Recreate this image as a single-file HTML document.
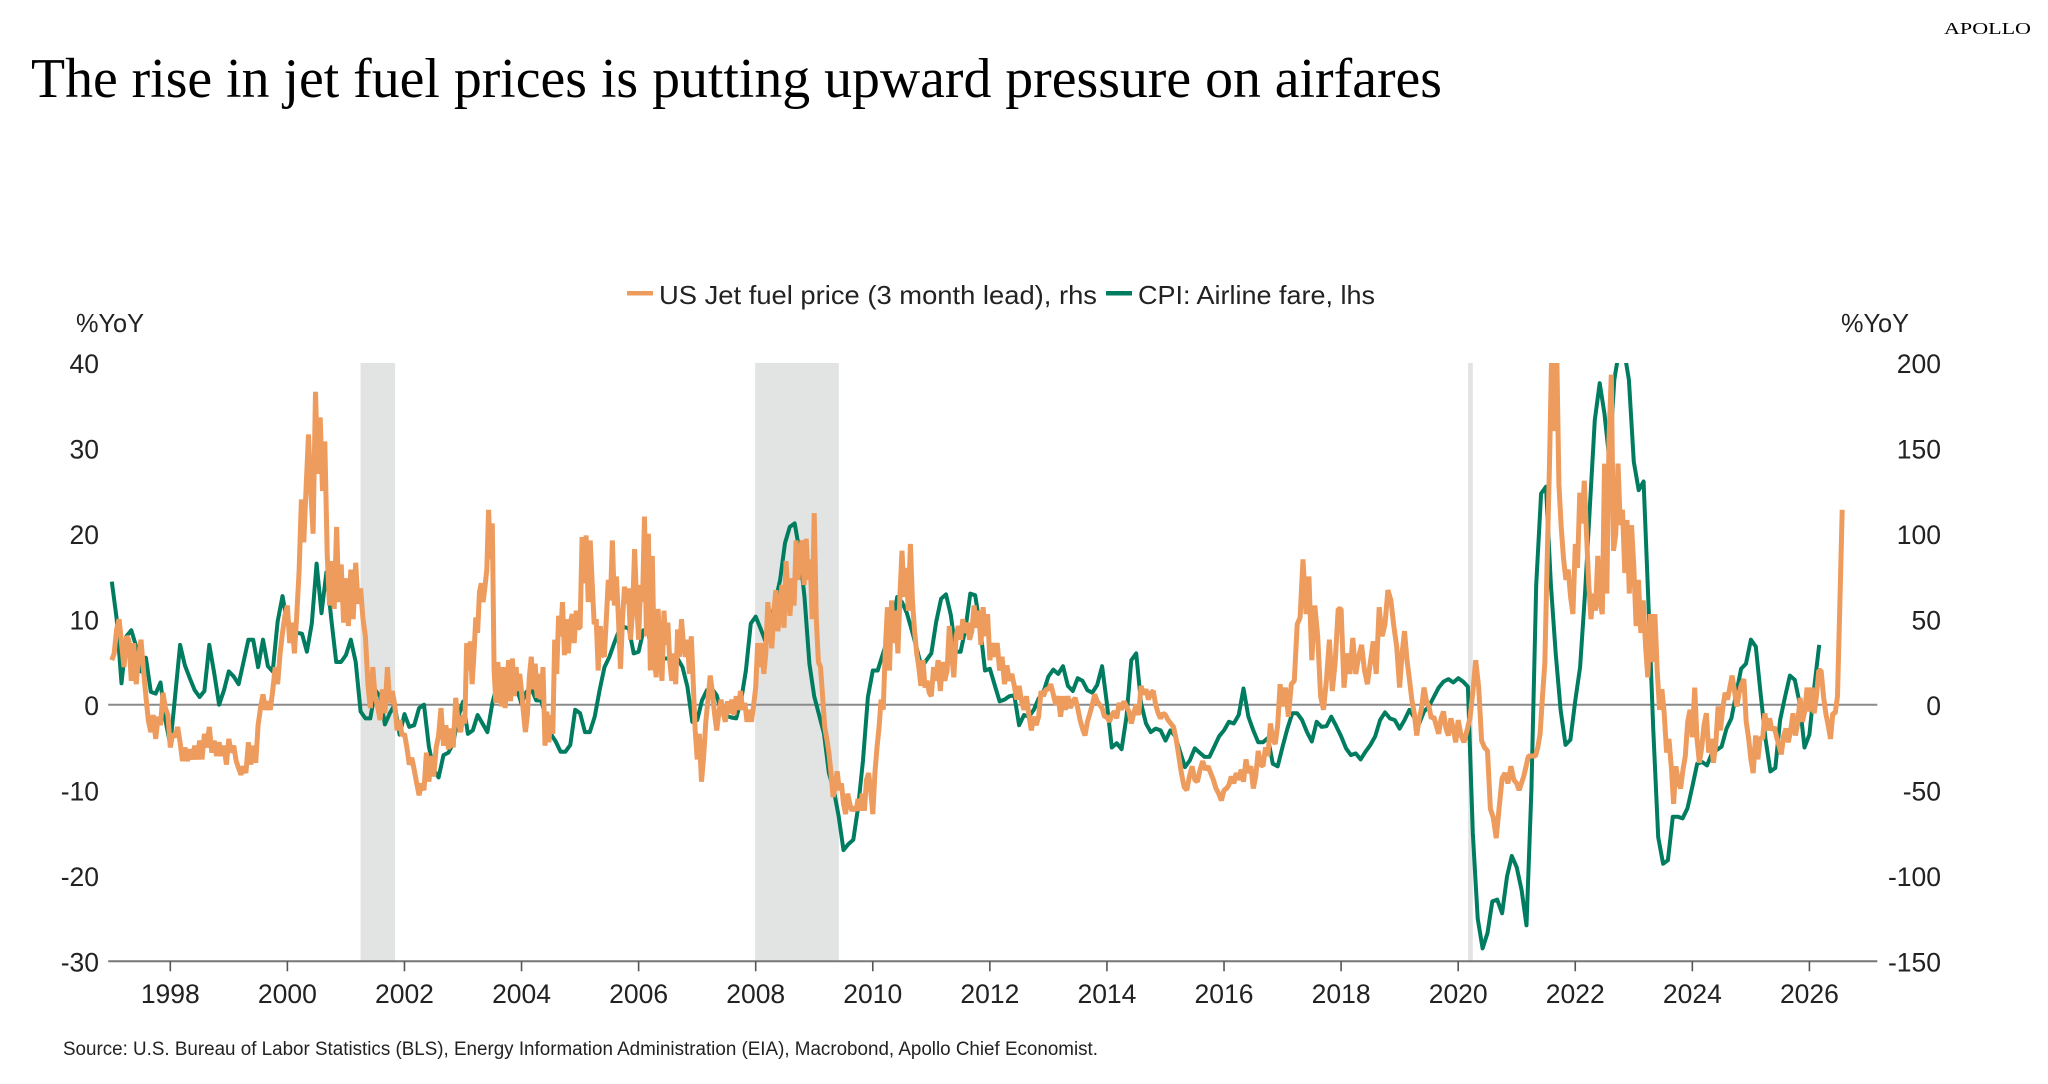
<!DOCTYPE html>
<html lang="en">
<head>
<meta charset="utf-8">
<title>The rise in jet fuel prices is putting upward pressure on airfares</title>
<style>
html,body{margin:0;padding:0;background:#fff;width:2048px;height:1084px;overflow:hidden}
svg{display:block}
text{font-family:"Liberation Sans",sans-serif;fill:#222}
.serif{font-family:"Liberation Serif",serif;fill:#000}
</style>
</head>
<body>
<svg id="chart" xmlns="http://www.w3.org/2000/svg" width="2048" height="1084" viewBox="0 0 2048 1084">
  <defs><clipPath id="plot-clip"><rect x="108" y="363" width="1770" height="598.5"/></clipPath></defs>
  <text class="serif" x="1944" y="34" font-size="17" textLength="87" lengthAdjust="spacingAndGlyphs">APOLLO</text>
  <text class="serif" x="31" y="97" font-size="56" textLength="1411" lengthAdjust="spacingAndGlyphs">The rise in jet fuel prices is putting upward pressure on airfares</text>
  <rect x="627" y="291" width="26" height="4.5" fill="#EE9B5E"/>
  <text x="659" y="304" font-size="26" textLength="438" lengthAdjust="spacingAndGlyphs">US Jet fuel price (3 month lead), rhs</text>
  <rect x="1106" y="291" width="26" height="4.5" fill="#007C60"/>
  <text x="1138" y="304" font-size="26" textLength="237" lengthAdjust="spacingAndGlyphs">CPI: Airline fare, lhs</text>
  <text x="76" y="332" font-size="26" textLength="68" lengthAdjust="spacingAndGlyphs">%YoY</text>
  <text x="1841" y="332" font-size="26" textLength="68" lengthAdjust="spacingAndGlyphs">%YoY</text>
  <g id="bands"></g>
  <g id="axes"></g>
  <g id="series" clip-path="url(#plot-clip)"></g>
  <g id="labels"></g>
  <text x="63" y="1055" font-size="19" textLength="1035" lengthAdjust="spacingAndGlyphs" fill="#333">Source: U.S. Bureau of Labor Statistics (BLS), Energy Information Administration (EIA), Macrobond, Apollo Chief Economist.</text>
</svg>
<script>
const yearTicks = [1998,2000,2002,2004,2006,2008,2010,2012,2014,2016,2018,2020,2022,2024,2026];
const leftTicks = [40,30,20,10,0,-10,-20,-30];
const rightTicks = [200,150,100,50,0,-50,-100,-150];
const recessionStarts = [2001.25,2007.99,2020.17];
const recessionEnds = [2001.84,2009.42,2020.25];

const cpiFirstYear = 1997;
const cpi1997 = [14.4,10.1,2.5,8,8.7,6.8,3.9,5.5,1.5,1.3,2.6,-1.8];
const cpi1998 = [-4.7,1.1,7,4.6,3.1,1.7,0.9,1.6,7,3.7,0,1.7];
const cpi1999 = [3.9,3.3,2.4,5,7.6,7.6,4.4,7.6,4.5,3.9,9.7,12.7];
const cpi2000 = [9.5,8.4,8.4,8.3,6.2,9.5,16.5,10.7,15.5,10,5,5];
const cpi2001 = [5.8,7.6,5,-0.8,-1.6,-1.6,1.7,1,-2.3,-1,0,-3.5];
const cpi2002 = [-1.1,-2.6,-2.4,-0.4,0,-4.9,-7.6,-8.5,-5.9,-5.6,-4.5,-1.5];
const cpi2003 = [0.35,-3.4,-3,-1.2,-2.2,-3.2,0.15,2.3,3,2.5,3.9,1.9];
const cpi2004 = [0.1,1.5,1.9,0.5,0.5,-1.4,-3.4,-4.3,-5.5,-5.5,-4.7,-0.6];
const cpi2005 = [-1,-3.2,-3.2,-1.4,1.7,4.4,5.6,7.2,8.7,9.1,8.9,6];
const cpi2006 = [6.2,8.7,8.3,5.6,5.2,5.4,5.4,5.4,5.4,4.4,2.1,-2];
const cpi2007 = [-1.8,0.5,1.7,1.9,1.1,-1,-1.3,-1.5,-1.6,0.5,4,9.5];
const cpi2008 = [10.3,8.9,7.4,9.7,12,14.6,18.9,20.8,21.2,17.9,12.6,4.8];
const cpi2009 = [1,-1.2,-3.4,-8,-10,-13,-17,-16.3,-15.8,-12,-6.5,0.9];
const cpi2010 = [4,4,5.8,7.6,9.5,12.6,12,10.7,8.7,6.6,4.4,5.2];
const cpi2011 = [6,9.7,12.4,12.9,10.5,6.2,6.2,8.9,13,12.8,9.1,4];
const cpi2012 = [4.2,2.3,0.4,0.6,1,1.1,-2.4,-1.2,-1.4,-0.6,0.7,1.5];
const cpi2013 = [3.3,4.1,3.6,4.5,2.2,1.6,3.1,2.8,1.7,1.4,2.3,4.5];
const cpi2014 = [0.15,-5,-4.5,-5.2,-1.4,5.2,6,0.15,-2.2,-3.2,-2.8,-3];
const cpi2015 = [-4.2,-3,-3.7,-5.5,-7.3,-6.5,-5.1,-5.6,-6.1,-6.1,-4.9,-3.7];
const cpi2016 = [-3,-2,-2.2,-1.2,1.9,-1.4,-3,-4.4,-4.4,-3.9,-6.9,-7.2];
const cpi2017 = [-4.9,-2.8,-1,-1,-1.8,-3.2,-4.3,-2,-2.6,-2.5,-1.4,-2.5];
const cpi2018 = [-3.7,-5.1,-5.9,-5.7,-6.4,-5.5,-4.7,-3.7,-1.8,-0.9,-1.6,-1.8];
const cpi2019 = [-2.8,-1.8,-0.6,-1.5,-2.2,-0.8,-0.2,0.9,2,2.7,3,2.6];
const cpi2020 = [3.1,2.7,2.1,-15,-25,-28.5,-26.7,-23,-22.8,-24.4,-20.1,-17.7];
const cpi2021 = [-19,-21.7,-25.8,-10,14,24.7,25.5,14,6,-0.6,-4.7,-4.1];
const cpi2022 = [0.5,4.4,13,23.2,33.3,37.6,34,28.6,38,41.5,41.5,38];
const cpi2023 = [28.4,25.1,26.1,12,-3,-15.5,-18.6,-18.2,-13.1,-13.1,-13.3,-12.1];
const cpi2024 = [-9.6,-6.9,-6.7,-7.1,-5.7,-5.3,-4.9,-2.8,-1.6,1.3,4.2,4.8];
const cpi2025 = [7.6,6.8,1.3,-4,-7.8,-7.4,-1.8,0.9,3.4,2.9,0.15,-5];
const cpi2026 = [-3.5,2.1,7];
const cpiByYear = [cpi1997,cpi1998,cpi1999,cpi2000,cpi2001,cpi2002,cpi2003,cpi2004,cpi2005,cpi2006,cpi2007,cpi2008,cpi2009,cpi2010,cpi2011,cpi2012,cpi2013,cpi2014,cpi2015,cpi2016,cpi2017,cpi2018,cpi2019,cpi2020,cpi2021,cpi2022,cpi2023,cpi2024,cpi2025,cpi2026];

const fuelFirstYear = 1997;
const fuelLastYearSpan = 0.6;
const fuel1997 = [26,30,44,50,36,22,40,38,14,36,12,28,38,20,5,-9,-16,-6,-20,-7,-12,7,-2,-6];
const fuel1998 = [-25,-17,-19,-13,-22,-33,-25,-33,-26,-32,-24,-32,-21,-32,-17,-25,-13,-28,-21,-30,-22,-30,-24,-35];
const fuel1999 = [-20,-28,-24,-33,-37,-41,-36,-40,-22,-35,-24,-34,-12,-2,6,-3,2,-3,8,22,12,30,42,52];
const fuel2000 = [58,36,48,30,52,78,120,95,127,158,125,100,183,135,168,125,154,88,58,84,56,104,60,82,48];
const fuel2001 = [74,46,79,50,83,59,68,50,40,12,-2,22,4,-1,-9,9,-5,22,1,8,0,-15,-9,-18];
const fuel2002 = [-17,-25,-35,-31,-38,-46,-53,-46,-50,-28,-45,-30,-42,-25,-18,-2,-24,-12,-26,-14,-25,4,-10,-16];
const fuel2003 = [-6,-11,36,20,37,12,30,51,42,66,71,60,69,79,114,85,106,20,1,25,10,-1,22,-2,14,26,2,27,5,22,8,18];
const fuel2004 = [8,-5,-16,-6,16,28,9,24,4,18,3,22,-24,-4,-22,-6,-17,38,18,52,40,60,29,50,30,48,53,36,55,45];
const fuel2005 = [45,98,71,99,60,96,71,47,50,20,46,30,28,50,73,61,96,58,75,51,21,50,69,59,68,38,55,91,60];
const fuel2006 = [38,70,60,110,40,100,20,87,28,16,56,30,14,55,35,48,25,14,30,12,44,28,50,35,28,38,18,40,12,-15];
const fuel2007 = [-32,-17,-45,-30,-10,3,17,8,-5,-15,-5,3,-5,-10,2,-5,3,-6,5,-3,8,-3,1,-10,-3,-10,-1];
const fuel2008 = [10,36,22,36,18,30,60,45,33,55,67,43,55,70,45,84,65,52,74,58,96,73,90,96,70,97,73,85,50];
const fuel2009 = [112,50,25,22,5,-13,-20,-28,-40,-54,-48,-39,-50,-46,-58,-64,-52,-58,-62,-60,-62,-55,-62,-52,-62,-44,-40,-50];
const fuel2010 = [-64,-40,-25,-13,3,-3,32,57,20,61,36,55,30,65,90,63,80,55,94,60,43,30,22,11,26,10,14,7];
const fuel2011 = [5,22,14,26,8,25,14,20,46,30,16,40,46,38,50,42,48,38,43,58,45,55,35,57,40,53];
const fuel2012 = [26,36,28,36,20,28,12,23,14,18,11,3,11,2,-3,5,-6,-15,-7,-12,-7,8,5,9];
const fuel2013 = [9,12,6,0,5,-7,5,-3,5,-2,2,4,-2,-9,-14,-18,-10,-5,0,6,2,0,-2,-7];
const fuel2014 = [-7,-10,-6,-4,-8,1,-3,2,-1,-4,-11,-5,0,-6,11,6,9,3,7,8,0,-5,-8,-5];
const fuel2015 = [-6,-9,-11,-13,-20,-30,-40,-48,-50,-42,-36,-44,-45,-38,-33,-38,-36,-40,-44,-49,-52,-56];
const fuel2016 = [-50,-49,-47,-42,-46,-40,-44,-38,-45,-32,-40,-36,-49,-42,-27,-35,-36,-25,-30,-11,-20,-23,-12,12];
const fuel2017 = [-1,10,-7,12,14,47,51,85,53,75,26,58,40,5,-3,15,38,8,25,56];
const fuel2018 = [56,10,30,18,39,18,28,35,20,12,25,37,18,57,40,47,67,61,46,34];
const fuel2019 = [10,30,43,26,15,3,-5,-18,-8,-2,10,2,-1,-8,-7,-12,-17,-8,-4,-14,-18,-8,-14,-22];
const fuel2020 = [-9,-18,-22,-15,-8,7,26,10,-21,-25,-27,-61,-66,-78,-60,-43,-40,-46,-36,-44];
const fuel2021 = [-46,-50,-46,-42,-36,-30,-30,-30,-30,-25,-17,5,24,85,141,210,160,215,129,104,85,73,79,63,53];
const fuel2022 = [94,80,124,106,131,100,70,50,65,55,87,60,53,141,65,155,193,90,100,141,105,114,77,108,65,105];
const fuel2023 = [81,46,73,42,61,35,16,53,25,53,20,-3,9,-5,-28,-20,-36,-58,-36,-45,-49,-38,-30,-10,-3];
const fuel2024 = [-19,10,-20,-34,-25,-12,-5,-28,-20,-34,-23,-1,-15,-2,7,3,10,17,8,-1,7,12,15,-10,-19];
const fuel2025 = [-32,-40,-18,-32,-19,-20,-5,-15,-8,-15,-13,-19,-24,-29,-18,-14,-22,-15,-5,-18,-11,4,-10,-4,10];
const fuel2026 = [-4,10,-5,5,20,20,5,-5,-12,-20,-5,-5,5,60,114];
const fuelByYear = [fuel1997,fuel1998,fuel1999,fuel2000,fuel2001,fuel2002,fuel2003,fuel2004,fuel2005,fuel2006,fuel2007,fuel2008,fuel2009,fuel2010,fuel2011,fuel2012,fuel2013,fuel2014,fuel2015,fuel2016,fuel2017,fuel2018,fuel2019,fuel2020,fuel2021,fuel2022,fuel2023,fuel2024,fuel2025,fuel2026];

const NS = 'http://www.w3.org/2000/svg';
const plotLeft = 108.2, plotRight = 1877.3, plotTop = 363, zeroY = 704.7, plotBottom = 961.3;
function xScale(t){ return 170.3 + 58.54 * (t - 1998); }
function yLeft(v){ return zeroY - 8.55 * v; }
function yRight(v){ return zeroY - 1.71 * v; }
function make(tag, parent, attrs){
  const el = document.createElementNS(NS, tag);
  for (const k in attrs) el.setAttribute(k, attrs[k]);
  parent.appendChild(el);
  return el;
}

const bands = document.getElementById('bands');
recessionStarts.forEach(function(s, i){
  const band = make('rect', bands, {x: xScale(s), y: plotTop, width: xScale(recessionEnds[i]) - xScale(s), height: plotBottom - plotTop, fill: '#E2E4E3'});
  
  
});

const axes = document.getElementById('axes');
const zeroLine = make('line', axes, {x1: plotLeft, x2: plotRight, y1: yLeft(0), y2: yLeft(0), stroke: '#8A8A8A', 'stroke-width': 2});


const xAxis = make('line', axes, {x1: plotLeft, x2: plotRight, y1: plotBottom, y2: plotBottom, stroke: '#777', 'stroke-width': 2});



const labels = document.getElementById('labels');
yearTicks.forEach(function(y){
  const tick = make('line', axes, {x1: xScale(y), x2: xScale(y), y1: plotBottom, y2: plotBottom + 10, stroke: '#555', 'stroke-width': 1.6});
  
  
  const label = make('text', labels, {x: xScale(y), y: 1003, 'font-size': 26.5, 'text-anchor': 'middle'});
  label.textContent = String(y);
  
  
});
leftTicks.forEach(function(v){
  const label = make('text', labels, {x: 99, y: yLeft(v) + 10.5, 'font-size': 26.5, 'text-anchor': 'end'});
  label.textContent = String(v);
  
  
});
rightTicks.forEach(function(v){
  const label = make('text', labels, {x: 1941, y: yRight(v) + 10.5, 'font-size': 26.5, 'text-anchor': 'end'});
  label.textContent = String(v);
  
  
});

const seriesGroup = document.getElementById('series');
const cpiPoints = [];
cpiByYear.forEach(function(values, yi){
  values.forEach(function(v, m){
    cpiPoints.push(xScale(cpiFirstYear + yi + m / 12).toFixed(1) + ',' + yLeft(v).toFixed(1));
  });
});
const cpiLine = make('polyline', seriesGroup, {points: cpiPoints.join(' '), fill: 'none', stroke: '#007C60', 'stroke-width': 4, 'stroke-linejoin': 'round'});



const fuelPoints = [];
fuelByYear.forEach(function(values, yi){
  const span = yi === fuelByYear.length - 1 ? fuelLastYearSpan : 1;
  values.forEach(function(v, k){
    fuelPoints.push(xScale(fuelFirstYear + yi + span * k / values.length).toFixed(1) + ',' + yRight(v).toFixed(1));
  });
});
const fuelLine = make('polyline', seriesGroup, {points: fuelPoints.join(' '), fill: 'none', stroke: '#EE9B5E', 'stroke-width': 5, 'stroke-linejoin': 'bevel'});


</script>
</body>
</html>
